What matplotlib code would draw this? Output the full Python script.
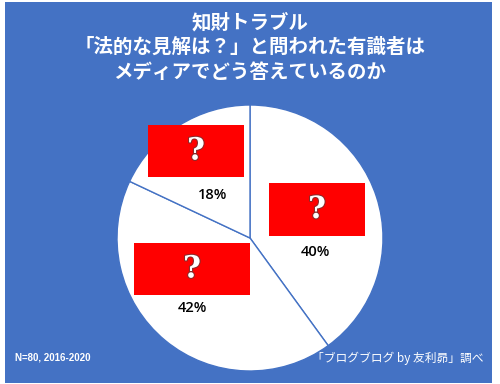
import matplotlib.pyplot as plt
import matplotlib.patheffects as pe
from matplotlib.patches import Rectangle

plt.rcParams['font.family'] = ['Noto Sans CJK JP', 'DejaVu Sans']

# data
labels = ['?', '?', '?']
shares = [40, 42, 18]
pct_labels = ['40%', '42%', '18%']
title_lines = ['知財トラブル',
               '「法的な見解は？」と問われた有識者は',
               'メディアでどう答えているのか']
note_left = 'N=80, 2016-2020'
note_right = '「ブログブログ by 友利昴」調べ'

BLUE = '#4472C4'
H = 384

# layout (pixel coords, y from top)
box_xy = [(317, 209.5, 96, 53), (192, 269, 116, 52), (196, 151, 96, 52)]
pct_xy = [(315, 252), (192, 308), (213, 195)]

fig = plt.figure(figsize=(5.0, 3.84), dpi=100)
fig.patch.set_facecolor('white')
ax = fig.add_axes([0, 0, 1, 1])

# blue panel
ax.add_patch(Rectangle((5, H - 383), 487, 381, facecolor=BLUE, edgecolor='none', zorder=0))

ax.pie(shares, center=(250, H - 238), radius=133, startangle=90, counterclock=False,
       colors=['white'] * 3, wedgeprops=dict(edgecolor=BLUE, linewidth=1.0),
       frame=True)
ax.set_xlim(0, 500)
ax.set_ylim(0, H)
ax.set_aspect('equal')
ax.axis('off')

for lab, (cx, cy, w, h), (px, py), pct in zip(labels, box_xy, pct_xy, pct_labels):
    ax.add_patch(Rectangle((cx - w / 2, H - cy - h / 2), w, h, facecolor='#FF0000',
                           edgecolor='none', zorder=3))
    ax.text(cx, H - cy, lab, fontsize=22, fontweight='bold', family='DejaVu Serif',
            color='white', ha='center', va='center', zorder=4,
            path_effects=[pe.withStroke(linewidth=1.5, foreground='#8a2a2a')])
    ax.text(px, H - py, pct, fontsize=10.5, fontweight='semibold', family='Open Sans',
            color='black', ha='center', va='center', zorder=4)

for i, line in enumerate(title_lines):
    ax.text(250, H - (23 + i * 24.5), line, fontsize=14, fontweight='bold', color='white',
            ha='center', va='center')

ax.text(15, H - 358, note_left, fontsize=7, fontweight='bold', family='Liberation Sans',
        color='white', ha='left', va='center')
ax.text(483, H - 358, note_right, fontsize=8.5, color='white', ha='right', va='center')

fig.savefig('out.png', dpi=100, facecolor=fig.get_facecolor())
